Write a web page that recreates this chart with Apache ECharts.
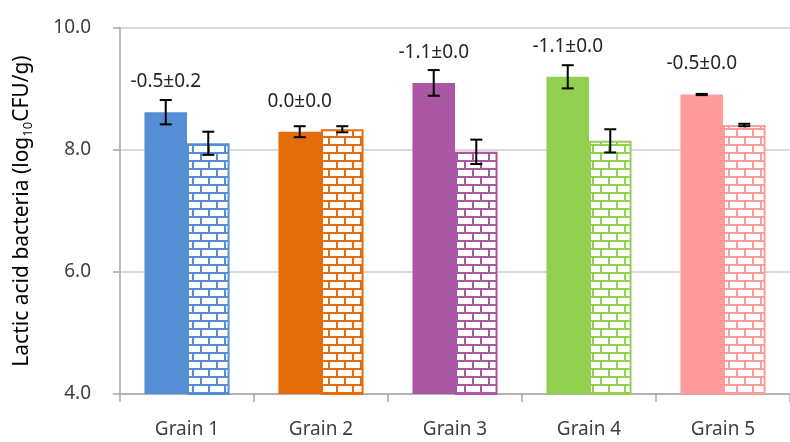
<!DOCTYPE html>
<html>
<head>
<meta charset="utf-8">
<script src="https://cdn.jsdelivr.net/npm/echarts@6/dist/echarts.min.js"></script>
<style>html,body{margin:0;padding:0;background:#fff;}#c{width:790px;height:442px;}</style>
</head>
<body>
<div id="c"></div>
<script>
// ---- data ----
const categories = ['Grain 1', 'Grain 2', 'Grain 3', 'Grain 4', 'Grain 5'];
const solidMeans = [8.62, 8.30, 9.10, 9.20, 8.91];
const solidErr   = [0.20, 0.09, 0.21, 0.19, 0.01];
const brickMeans = [8.11, 8.34, 7.97, 8.15, 8.41];
const brickErr   = [0.19, 0.05, 0.20, 0.19, 0.02];
const diffLabels = ['-0.5±0.2', '0.0±0.0', '-1.1±0.0', '-1.1±0.0', '-0.5±0.0'];
const colors = ['#558ED5', '#E46C0A', '#AA57A4', '#92D050', '#FF9B9B'];
const yMin = 4, yMax = 10, yStep = 2;

const FONT = 'Noto Sans';
const CAT_GAP = 0.365;

function brickPattern(color) {
  const c = document.createElement('canvas');
  c.width = 16; c.height = 16;
  const g = c.getContext('2d');
  g.fillStyle = '#fff'; g.fillRect(0, 0, 16, 16);
  g.fillStyle = color;
  g.fillRect(0, 0, 16, 2);
  g.fillRect(0, 8, 16, 2);
  g.fillRect(0, 0, 2, 8);
  g.fillRect(8, 8, 2, 8);
  return { image: c, repeat: 'repeat' };
}

const chart = echarts.init(document.getElementById('c'), null, { renderer: 'canvas' });

const errData = [];
for (let i = 0; i < categories.length; i++) {
  errData.push([i, solidMeans[i] - solidErr[i], solidMeans[i] + solidErr[i], 0]);
  errData.push([i, brickMeans[i] - brickErr[i], brickMeans[i] + brickErr[i], 1]);
}

const option = {
  animation: false,
  textStyle: { fontFamily: FONT },
  grid: { left: 120, top: 28, width: 680, height: 366 },
  xAxis: {
    type: 'category',
    data: categories,
    axisLine: { lineStyle: { color: '#a6a6a6', width: 1.5 } },
    axisTick: { show: true, length: 8, lineStyle: { color: '#a6a6a6', width: 1.5 } },
    axisLabel: { color: '#404040', fontSize: 19, margin: 26, fontFamily: FONT }
  },
  yAxis: {
    type: 'value',
    min: yMin, max: yMax, interval: yStep,
    name: 'Lactic acid bacteria (log{s|10}CFU/g)',
    nameLocation: 'middle',
    nameGap: 85,
    nameTextStyle: {
      color: '#000', fontSize: 21, fontFamily: FONT,
      rich: { s: { fontSize: 13, color: '#000', fontFamily: FONT, padding: [12, 0, 0, 0] } }
    },
    axisLine: { show: true, lineStyle: { color: '#a6a6a6', width: 1.5 } },
    axisTick: { show: true, length: 7, lineStyle: { color: '#a6a6a6', width: 1.5 } },
    axisLabel: { color: '#404040', fontSize: 19, margin: 29, fontFamily: FONT,
                 formatter: v => v.toFixed(1) },
    splitLine: { lineStyle: { color: '#d9d9d9', width: 2 } }
  },
  series: [
    {
      type: 'bar',
      barGap: '0%',
      barCategoryGap: (CAT_GAP * 100) + '%',
      data: solidMeans.map((v, i) => ({ value: v, itemStyle: { color: colors[i] } })),
      label: {
        show: true, position: 'top', distance: 21,
        color: '#262626', fontSize: 19, fontFamily: FONT,
        formatter: p => diffLabels[p.dataIndex]
      },
      z: 2
    },
    {
      type: 'bar',
      barGap: '0%',
      barCategoryGap: (CAT_GAP * 100) + '%',
      data: brickMeans.map((v, i) => ({
        value: v,
        itemStyle: { color: brickPattern(colors[i]), borderColor: colors[i], borderWidth: 2 }
      })),
      z: 2
    },
    {
      type: 'custom',
      z: 5,
      data: errData,
      encode: { x: 0, y: [1, 2] },
      renderItem: function (params, api) {
        const cat = api.value(0);
        const lo = api.coord([cat, api.value(1)]);
        const hi = api.coord([cat, api.value(2)]);
        const band = api.size([1, 0])[0];
        const barW = band * (1 - CAT_GAP) / 2;
        const x = lo[0] + (api.value(3) === 0 ? -barW / 2 : barW / 2);
        const hw = 6;
        const st = { stroke: '#000', lineWidth: 2 };
        return {
          type: 'group',
          children: [
            { type: 'line', shape: { x1: x, y1: lo[1], x2: x, y2: hi[1] }, style: st },
            { type: 'line', shape: { x1: x - hw, y1: lo[1], x2: x + hw, y2: lo[1] }, style: st },
            { type: 'line', shape: { x1: x - hw, y1: hi[1], x2: x + hw, y2: hi[1] }, style: st }
          ]
        };
      }
    }
  ]
};
chart.setOption(option);
</script>
</body>
</html>
